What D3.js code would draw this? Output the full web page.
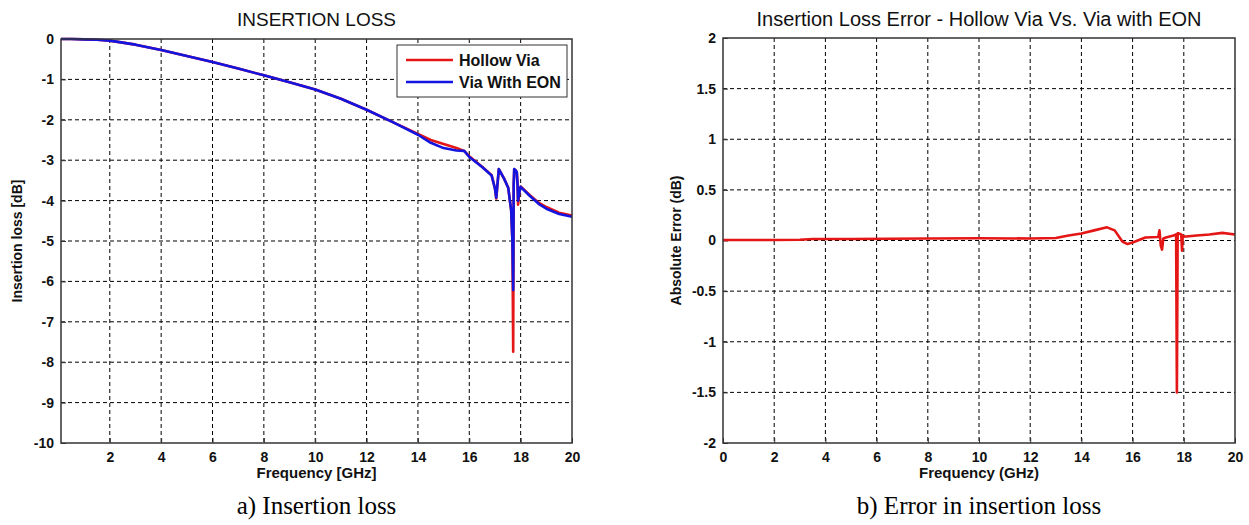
<!DOCTYPE html>
<html><head><meta charset="utf-8">
<script src="https://cdn.jsdelivr.net/npm/d3@7"></script>
<style>
body{margin:0;background:#fff;}
svg{display:block;}
.tick text{font-family:"Liberation Sans",Arial,sans-serif;font-weight:bold;font-size:14px;fill:#111;}
.lbl{font-family:"Liberation Sans",Arial,sans-serif;font-weight:bold;font-size:14px;fill:#111;}
.leg{font-family:"Liberation Sans",Arial,sans-serif;font-weight:bold;font-size:16px;fill:#111;}
.ttl{font-family:"Liberation Sans",Arial,sans-serif;fill:#111;}
.cap{font-family:"Liberation Serif","Times New Roman",serif;font-size:25px;fill:#000;}
</style></head>
<body><svg id="c" width="1249" height="525"></svg>
<script>
// ---- data ----
const freqIL = [0.1,0.5,1,1.5,2,3,4,5,6,7,8,9,10,11,12,13,14,14.5,15,15.5,15.8,16,16.5,16.87,17.0,17.05,17.15,17.35,17.52,17.58,17.63,17.68,17.71,17.73,17.75,17.8,17.85,17.88,17.9,17.95,18.0,18.35,18.7,19.0,19.5,20];
const hollowVia = [0,0,-0.01,-0.02,-0.04,-0.14,-0.27,-0.42,-0.57,-0.73,-0.9,-1.07,-1.25,-1.48,-1.75,-2.05,-2.35,-2.5,-2.6,-2.7,-2.77,-2.9,-3.16,-3.37,-3.7,-3.95,-3.22,-3.45,-3.69,-4.0,-4.23,-5.0,-7.74,-3.6,-3.22,-3.25,-3.3,-3.6,-4.1,-3.8,-3.65,-3.86,-4.05,-4.16,-4.3,-4.37];
const viaWithEON = [0,0,-0.01,-0.02,-0.04,-0.14,-0.27,-0.42,-0.57,-0.73,-0.9,-1.07,-1.25,-1.48,-1.75,-2.05,-2.37,-2.57,-2.7,-2.76,-2.77,-2.92,-3.17,-3.38,-3.7,-3.93,-3.22,-3.45,-3.69,-4.0,-4.23,-5.0,-6.21,-3.6,-3.22,-3.25,-3.3,-3.6,-4.0,-3.8,-3.66,-3.88,-4.08,-4.2,-4.33,-4.4];
const freqErr = [0,1,2,3,3.5,5,8,10,12,13,13.5,14,14.5,15,15.3,15.6,15.8,16,16.5,17.0,17.05,17.1,17.15,17.2,17.3,17.6,17.7,17.73,17.76,17.8,17.9,17.93,17.96,18.0,18.1,18.5,19,19.5,20];
const absError = [0.005,0.005,0.005,0.008,0.015,0.015,0.02,0.022,0.02,0.025,0.05,0.07,0.1,0.13,0.1,-0.01,-0.035,-0.02,0.03,0.035,0.1,-0.05,-0.09,0.02,0.03,0.05,0.06,-1.5,0.07,0.07,0.06,-0.1,0.05,0.04,0.04,0.05,0.06,0.075,0.06];
const xTicksA = [2,4,6,8,10,12,14,16,18,20];
const yTicksA = [0,-1,-2,-3,-4,-5,-6,-7,-8,-9,-10];
const xTicksB = [0,2,4,6,8,10,12,14,16,18,20];
const yTicksB = [2,1.5,1,0.5,0,-0.5,-1,-1.5,-2];
const seriesNames = ["Hollow Via","Via With EON"];
const seriesColors = ["#e51616","#1414e0"];

const svg = d3.select("#c");
const fmt = d => String(d); // plain hyphen-minus like the reference

function panel(o){
  const g = svg.append("g");
  const x = d3.scaleLinear().domain(o.xd).range([o.x0,o.x1]);
  const y = d3.scaleLinear().domain(o.yd).range([o.y1,o.y0]);
  // grid
  g.append("g").selectAll("line").data(o.xt.filter(v=>v>o.xd[0]&&v<o.xd[1])).join("line")
    .attr("x1",d=>x(d)).attr("x2",d=>x(d)).attr("y1",o.y0).attr("y2",o.y1)
    .attr("stroke","#000").attr("stroke-width",1).attr("stroke-dasharray","4,3");
  g.append("g").selectAll("line").data(o.yt.filter(v=>v>o.yd[0]&&v<o.yd[1])).join("line")
    .attr("y1",d=>y(d)).attr("y2",d=>y(d)).attr("x1",o.x0).attr("x2",o.x1)
    .attr("stroke","#000").attr("stroke-width",1).attr("stroke-dasharray","4,3");
  // axes
  const xa = g.append("g").attr("transform",`translate(0,${o.y1})`)
    .call(d3.axisBottom(x).tickValues(o.xt).tickSize(-5).tickPadding(9).tickFormat(fmt));
  const ya = g.append("g").attr("transform",`translate(${o.x0},0)`)
    .call(d3.axisLeft(y).tickValues(o.yt).tickSize(-5).tickPadding(7).tickFormat(fmt));
  [xa,ya].forEach(a=>{a.select(".domain").remove();a.selectAll(".tick line").attr("stroke","#333");});
  // lines
  const line = d3.line().x(d=>x(d[0])).y(d=>y(d[1]));
  o.series.forEach(s=>{
    g.append("path").datum(s.f.map((f,i)=>[f,s.v[i]]))
      .attr("d",line).attr("fill","none").attr("stroke",s.c).attr("stroke-width",2.6)
      .attr("stroke-linejoin","round");
  });
  // frame
  g.append("rect").attr("x",o.x0).attr("y",o.y0).attr("width",o.x1-o.x0).attr("height",o.y1-o.y0)
    .attr("fill","none").attr("stroke","#333").attr("stroke-width",1.5);
  // labels
  g.append("text").attr("class","ttl").attr("x",(o.x0+o.x1)/2).attr("y",26).attr("text-anchor","middle")
    .style("font-size",o.ts).text(o.title);
  g.append("text").attr("class","lbl").attr("x",(o.x0+o.x1)/2).attr("y",478).attr("text-anchor","middle")
    .style("font-size","15px").text(o.xl);
  g.append("text").attr("class","lbl").attr("transform",`translate(${o.ylx},${(o.y0+o.y1)/2}) rotate(-90)`)
    .attr("text-anchor","middle").text(o.yl);
  g.append("text").attr("class","cap").attr("x",(o.x0+o.x1)/2).attr("y",514).attr("text-anchor","middle").text(o.cap);
  return {g,x,y};
}

const A = panel({x0:61,x1:572,y0:39,y1:443,xd:[0.1,20],yd:[-10,0],xt:xTicksA,yt:yTicksA,ts:"19px",
  title:"INSERTION LOSS",xl:"Frequency [GHz]",yl:"Insertion loss [dB]",ylx:22,cap:"a) Insertion loss",
  series:[{f:freqIL,v:hollowVia,c:seriesColors[0]},{f:freqIL,v:viaWithEON,c:seriesColors[1]}]});

const B = panel({x0:723,x1:1235,y0:38,y1:443,xd:[0,20],yd:[-2,2],xt:xTicksB,yt:yTicksB,ts:"20px",
  title:"Insertion Loss Error - Hollow Via Vs. Via with EON",xl:"Frequency (GHz)",yl:"Absolute Error (dB)",ylx:681,cap:"b) Error in insertion loss",
  series:[{f:freqErr,v:absError,c:seriesColors[0]}]});

// legend
const lg = A.g.append("g");
lg.append("rect").attr("x",397).attr("y",45).attr("width",170).attr("height",52).attr("fill","#fff").attr("stroke","#333").attr("stroke-width",1);
seriesNames.forEach((n,i)=>{
  const yy = 60 + i*22;
  lg.append("line").attr("x1",406).attr("x2",453).attr("y1",yy).attr("y2",yy).attr("stroke",seriesColors[i]).attr("stroke-width",2.6);
  lg.append("text").attr("class","leg").attr("x",459).attr("y",yy+6).text(n);
});
</script></body></html>
